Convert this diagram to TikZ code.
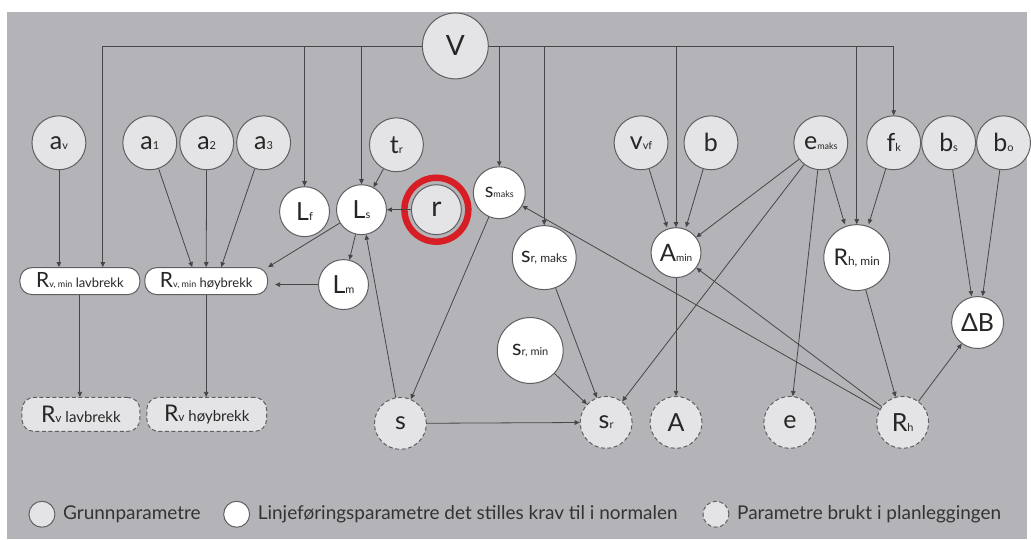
\documentclass[tikz,border=0pt]{standalone}
\usepackage{fontspec}
\setmainfont{Lato}
\usetikzlibrary{arrows.meta}
\definecolor{bgc}{RGB}{180,180,184}
\definecolor{fillg}{RGB}{228,228,230}
\definecolor{edgec}{RGB}{95,95,98}
\definecolor{linec}{RGB}{70,70,72}
\definecolor{ringc}{RGB}{214,30,36}
\newcommand\fs[2]{{\fontsize{#1}{#1}\selectfont #2}}
\newcommand\sbs[1]{\fs{11}{#1}}
\begin{document}
\begin{tikzpicture}[x=1pt,y=-1pt,
  base/.style={circle,draw=edgec,line width=1pt,inner sep=0pt,text=black!85,
    font=\fontsize{25}{25}\selectfont},
  gp/.style={base,fill=fillg,minimum size=54pt},
  lp/.style={base,fill=white},
  pp/.style={base,fill=fillg,dashed,dash pattern=on 4pt off 2.5pt,minimum size=52pt},
  boxn/.style={draw=edgec,line width=1pt,rounded corners=12pt,inner sep=0pt,
    text=black!85,font=\fontsize{21}{21}\selectfont},
  arr/.style={draw=linec,line width=0.8pt,-{Triangle[length=5pt,width=4.5pt]}},
  legtxt/.style={anchor=west,inner sep=0pt,text=black!80,font=\fontsize{19}{19}\selectfont}]
\fill[white] (0,0) rectangle (1031,540);
\fill[bgc] (7,12) rectangle (1028,540);

% root
\node[gp,minimum size=66pt,font=\fontsize{28}{28}\selectfont] (V) at (456,46) {V};

% basic parameters
\node[gp] (av) at (59,143) {a\sbs{v}};
\node[gp] (a1) at (150,143) {a\sbs{1}};
\node[gp] (a2) at (207,143) {a\sbs{2}};
\node[gp] (a3) at (264,143) {a\sbs{3}};
\node[gp] (tr) at (397,145) {t\sbs{r}};
\node[gp] (vvf) at (642,143) {v\sbs{vf}};
\node[gp] (b) at (712,143) {b};
\node[gp] (emaks) at (822,143) {e\fs{9}{maks}};
\node[gp] (fk) at (895,143) {f\sbs{k}};
\node[gp] (bs) at (950,143) {b\sbs{s}};
\node[gp] (bo) at (1005,143) {b\sbs{o}};

% r with highlight ring
\node[gp,minimum size=50pt,font=\fontsize{28}{28}\selectfont] (r) at (437,210) {r};
\draw[ringc,line width=6.5pt] (r.center) circle[radius=32pt];

% alignment parameters
\node[lp,minimum size=50pt] (Lf) at (305,212) {L\sbs{f}};
\node[lp,minimum size=50pt] (Ls) at (362,210) {L\sbs{s}};
\node[lp,minimum size=50pt] (Lm) at (344,285) {L\sbs{m}};
\node[lp,minimum size=52pt,font=\fontsize{20}{20}\selectfont] (smaks) at (500,193) {s\fs{9}{maks}};
\node[lp,minimum size=64pt,font=\fontsize{22}{22}\selectfont] (srmaks) at (545,258) {s\fs{12}{r, maks}};
\node[lp,minimum size=66pt,font=\fontsize{22}{22}\selectfont] (srmin) at (531,351) {s\fs{11}{r, min}};
\node[lp,minimum size=50pt,font=\fontsize{24}{24}\selectfont] (Amin) at (677,253) {A\fs{10}{min}};
\node[lp,minimum size=66pt,font=\fontsize{23}{23}\selectfont] (Rhmin) at (858,258) {R\fs{12}{h, min}};
\node[lp,minimum size=52pt] (dB) at (979,323) {ΔB};

\node[boxn,fill=white,minimum width=120pt,minimum height=27pt] (rvl) at (80,281.5)
  {R\fs{9}{v, min\fs{13}{ lavbrekk}}};
\node[boxn,fill=white,minimum width=123pt,minimum height=27pt] (rvh) at (206.5,281.5)
  {R\fs{9}{v, min\fs{13}{ høybrekk}}};

% planning parameters
\node[boxn,fill=fillg,dashed,dash pattern=on 4pt off 2.5pt,minimum width=118pt,minimum height=34pt,
  font=\fontsize{23}{23}\selectfont] (rvlb) at (81,415)
  {R\fs{12}{v\fs{15}{ lavbrekk}}};
\node[boxn,fill=fillg,dashed,dash pattern=on 4pt off 2.5pt,minimum width=120pt,minimum height=34pt,
  font=\fontsize{23}{23}\selectfont] (rvhb) at (207,415)
  {R\fs{12}{v\fs{15}{ høybrekk}}};
\node[pp] (s) at (401,424) {s};
\node[pp] (sr) at (607,423) {s\sbs{r}};
\node[pp] (A) at (677,423) {A};
\node[pp] (e) at (791,423) {e};
\node[pp] (Rh) at (904,423) {R\sbs{h}};

% connectors from V
\draw[arr] (V.west) -| ([xshift=23pt]rvl.north);
\draw[arr] (V.west) -| (Lf.north);
\draw[arr] (V.west) -| (Ls.north);
\draw[arr] (V.east) -| (smaks.north);
\draw[arr] (V.east) -| (srmaks.north);
\draw[arr] (V.east) -| (Amin.north);
\draw[arr] (V.east) -| (Rhmin.north);
\draw[arr] (V.east) -| (fk.north);

% other connectors
\draw[arr] (av) -- (av |- rvl.north);
\draw[arr] (a1) -- ([xshift=-14pt]rvh.north);
\draw[arr] (a2) -- (rvh.north);
\draw[arr] (a3) -- ([xshift=15pt]rvh.north);
\draw[arr] (tr) -- (Ls);
\draw[arr] (r) -- (Ls);
\draw[arr] (Ls) -- (rvh.north east);
\draw[arr] (Ls) -- (Lm);
\draw[arr,shorten >=7pt] (Lm) -- (rvh.east |- Lm);
\draw[arr] (rvl) -- (rvl |- rvlb.north);
\draw[arr] (rvh) -- (rvh |- rvhb.north);
\draw[arr] (s) -- (Ls);
\draw[arr] (smaks) -- (s);
\draw[arr] (s) -- (sr);
\draw[arr] (srmaks) -- (sr);
\draw[arr] (srmin) -- (sr);
\draw[arr] (emaks) -- (sr);
\draw[arr] (vvf) -- ([xshift=-9pt]Amin.north);
\draw[arr] (b) -- ([xshift=10pt]Amin.north);
\draw[arr] (emaks) -- (Amin);
\draw[arr] (Amin) -- (A);
\draw[arr] (emaks) -- (e);
\draw[arr] (emaks) -- ([xshift=-12pt]Rhmin.north);
\draw[arr] (fk) -- ([xshift=12pt]Rhmin.north);
\draw[arr] (Rhmin) -- (Rh);
\draw[arr] (Rh) -- (smaks);
\draw[arr] (Rh) -- (Amin);
\draw[arr] (Rh) -- (dB);
\draw[arr] (bs) -- ([xshift=-6pt]dB.north);
\draw[arr] (bo) -- ([xshift=5pt]dB.north);

% legend
\node[gp,minimum size=26pt] (k1) at (42,515) {};
\node[legtxt] (t1) at (63,515) {Grunnparametre};
\node[lp,minimum size=26pt] (k2) at (237,515) {};
\node[legtxt] (t2) at (258,515) {Linjeføringsparametre det stilles krav til i normalen};
\node[pp,minimum size=26pt] (k3) at (717,515) {};
\node[legtxt] (t3) at (738,515) {Parametre brukt i planleggingen};
\end{tikzpicture}
\end{document}
